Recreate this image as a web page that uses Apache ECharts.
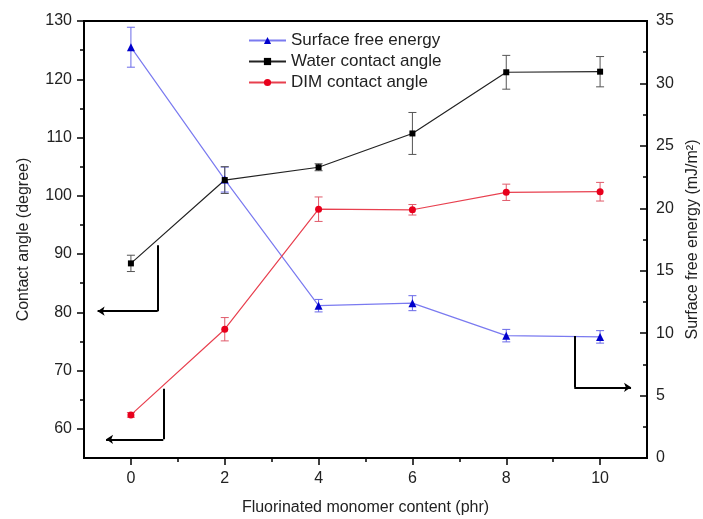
<!DOCTYPE html>
<html>
<head>
<meta charset="utf-8">
<script src="https://cdn.jsdelivr.net/npm/echarts@6/dist/echarts.min.js"></script>
<style>html,body{margin:0;padding:0;background:#fff;}#c{width:703px;height:519px;}</style>
</head>
<body>
<div id="c"></div>
<script>
// ---- data ----
var xValues = [0, 2, 4, 6, 8, 10];
var sfeValues = [32.9, 22.3, 12.2, 12.4, 9.8, 9.7];
var sfeErrors = [1.6, 1.0, 0.5, 0.6, 0.5, 0.5];
var waterValues = [88.4, 102.7, 104.9, 110.7, 121.2, 121.3];
var waterErrors = [1.4, 2.3, 0.6, 3.6, 2.9, 2.6];
var dimValues = [62.4, 77.1, 97.7, 97.6, 100.6, 100.7];
var dimErrors = [0.4, 2.0, 2.1, 0.9, 1.4, 1.6];
var xTickLabels = [0, 2, 4, 6, 8, 10];
var xMinorTicks = [1, 3, 5, 7, 9];
var leftTickLabels = [60, 70, 80, 90, 100, 110, 120, 130];
var leftMinorTicks = [65, 75, 85, 95, 105, 115, 125];
var rightTickLabels = [0, 5, 10, 15, 20, 25, 30, 35];
var rightMinorTicks = [2.5, 7.5, 12.5, 17.5, 22.5, 27.5, 32.5];
var seriesNames = ['Surface free energy', 'Water contact angle', 'DIM contact angle'];
// annotation arrows: [vertical segment start, corner, arrow tip]
var arrowWater = [[0.57, 91.5], [0.57, 80.2], [-0.71, 80.2]];
var arrowDim = [[0.69, 66.9], [0.69, 58.2], [-0.53, 58.2]];
var arrowSfe = [[9.45, 9.77], [9.45, 5.66], [10.66, 5.66]];

var FONT = 'Liberation Sans, Arial, sans-serif';

function pairs(xs, ys) { return xs.map(function (x, i) { return [x, ys[i]]; }); }
function triples(xs, ys, es) { return xs.map(function (x, i) { return [x, ys[i], es[i]]; }); }

function errorSeries(name, yIdx, xs, ys, es, color) {
  return {
    type: 'custom', name: name + ' err', xAxisIndex: 0, yAxisIndex: yIdx,
    data: triples(xs, ys, es), encode: { x: 0, y: 1 }, z: 2, silent: true,
    renderItem: function (params, api) {
      var x = api.value(0), y = api.value(1), e = api.value(2);
      var t = api.coord([x, y + e]), b = api.coord([x, y - e]);
      var w = 4;
      var st = { stroke: color, lineWidth: 1 };
      return { type: 'group', children: [
        { type: 'line', shape: { x1: t[0], y1: t[1], x2: b[0], y2: b[1] }, style: st },
        { type: 'line', shape: { x1: t[0] - w, y1: t[1], x2: t[0] + w, y2: t[1] }, style: st },
        { type: 'line', shape: { x1: b[0] - w, y1: b[1], x2: b[0] + w, y2: b[1] }, style: st }
      ] };
    }
  };
}

function arrowSeries(pts, yIdx) {
  return {
    type: 'lines', coordinateSystem: 'cartesian2d', xAxisIndex: 0, yAxisIndex: yIdx,
    silent: true, z: 5,
    lineStyle: { color: '#000', width: 2, opacity: 1 },
    data: [
      { coords: [pts[0], pts[1]], symbol: ['none', 'none'] },
      { coords: [pts[1], pts[2]], symbol: ['none', 'arrow'], symbolSize: 7 }
    ]
  };
}

var chart = echarts.init(document.getElementById('c'), null, { renderer: 'canvas' });
var axisLine = { show: true, onZero: false, lineStyle: { color: '#000', width: 2 } };
var hiddenLine = { show: false, onZero: false };
var labelStyle = { color: '#222', fontSize: 16, fontFamily: FONT };
var tickStyle = { color: '#000', width: 1.5 };

var option = {
  animation: false,
  backgroundColor: '#fff',
  grid: { left: 84, right: 56, top: 21, bottom: 61, containLabel: false, outerBoundsMode: 'none',
          show: true, borderColor: '#000', borderWidth: 2, backgroundColor: 'transparent' },
  legend: {
    data: seriesNames, orient: 'vertical', left: 243, top: 27,
    itemWidth: 37, itemHeight: 9, itemGap: 4,
    textStyle: { color: '#222', fontSize: 17, fontFamily: FONT }
  },
  xAxis: [
    {
      type: 'value', min: -1, max: 11, position: 'bottom',
      name: 'Fluorinated monomer content (phr)', nameLocation: 'middle', nameGap: 42,
      nameTextStyle: { color: '#222', fontSize: 16, fontFamily: FONT },
      axisLine: axisLine,
      axisTick: { show: true, inside: false, length: 7, lineStyle: tickStyle, customValues: xTickLabels },
      axisLabel: Object.assign({ margin: 13, customValues: xTickLabels }, labelStyle),
      splitLine: { show: false }
    },
    {
      type: 'value', min: -1, max: 11, position: 'bottom',
      axisLine: hiddenLine,
      axisTick: { show: true, inside: false, length: 4, lineStyle: tickStyle, customValues: xMinorTicks },
      axisLabel: { show: false, customValues: xMinorTicks },
      splitLine: { show: false }
    }
  ],
  yAxis: [
    {
      type: 'value', min: 55, max: 130, position: 'left',
      name: 'Contact angle (degree)', nameLocation: 'middle', nameGap: 52, nameRotate: 90,
      nameTextStyle: { color: '#222', fontSize: 16, fontFamily: FONT },
      axisLine: axisLine,
      axisTick: { show: true, inside: false, length: 7, lineStyle: tickStyle, customValues: leftTickLabels },
      axisLabel: Object.assign({ margin: 12, customValues: leftTickLabels }, labelStyle),
      splitLine: { show: false }
    },
    {
      type: 'value', min: 0, max: 35, position: 'right',
      name: 'Surface free energy (mJ/m²)', nameLocation: 'middle', nameGap: 35, nameRotate: 90,
      nameTextStyle: { color: '#222', fontSize: 16, fontFamily: FONT },
      axisLine: axisLine,
      axisTick: { show: true, inside: true, length: 7, lineStyle: tickStyle, customValues: rightTickLabels },
      axisLabel: Object.assign({ margin: 9, customValues: rightTickLabels }, labelStyle),
      splitLine: { show: false }
    },
    {
      type: 'value', min: 55, max: 130, position: 'left',
      axisLine: hiddenLine,
      axisTick: { show: true, inside: false, length: 4, lineStyle: tickStyle, customValues: leftMinorTicks },
      axisLabel: { show: false, customValues: leftMinorTicks },
      splitLine: { show: false }
    },
    {
      type: 'value', min: 0, max: 35, position: 'right',
      axisLine: hiddenLine,
      axisTick: { show: true, inside: true, length: 4, lineStyle: tickStyle, customValues: rightMinorTicks },
      axisLabel: { show: false, customValues: rightMinorTicks },
      splitLine: { show: false }
    }
  ],
  series: [
    errorSeries(seriesNames[0], 1, xValues, sfeValues, sfeErrors, '#6a6ae8'),
    errorSeries(seriesNames[1], 0, xValues, waterValues, waterErrors, '#555'),
    errorSeries(seriesNames[2], 0, xValues, dimValues, dimErrors, '#e05a6a'),
    {
      type: 'line', name: seriesNames[0], xAxisIndex: 0, yAxisIndex: 1,
      data: pairs(xValues, sfeValues), symbol: 'triangle', symbolSize: 8,
      itemStyle: { color: '#0000cc' }, lineStyle: { color: '#7a7af0', width: 1.2 }, z: 3
    },
    {
      type: 'line', name: seriesNames[1], xAxisIndex: 0, yAxisIndex: 0,
      data: pairs(xValues, waterValues), symbol: 'rect', symbolSize: 6,
      itemStyle: { color: '#000' }, lineStyle: { color: '#222', width: 1.2 }, z: 3
    },
    {
      type: 'line', name: seriesNames[2], xAxisIndex: 0, yAxisIndex: 0,
      data: pairs(xValues, dimValues), symbol: 'circle', symbolSize: 7,
      itemStyle: { color: '#e8001c' }, lineStyle: { color: '#e8404f', width: 1.2 }, z: 3
    },
    arrowSeries(arrowWater, 0),
    arrowSeries(arrowDim, 0),
    arrowSeries(arrowSfe, 1)
  ]
};
chart.setOption(option);
</script>
</body>
</html>
